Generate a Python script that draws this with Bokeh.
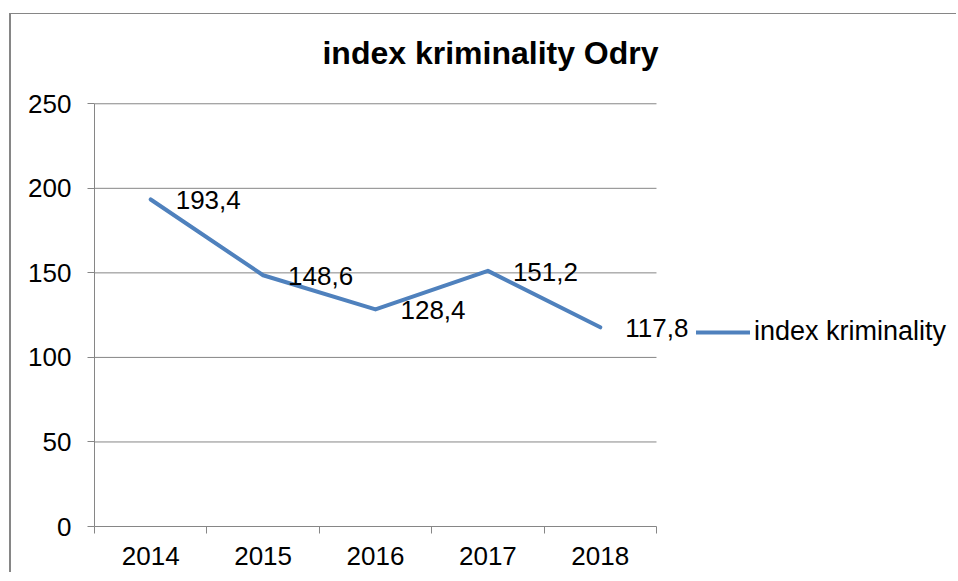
from bokeh.plotting import figure
from bokeh.models import (ColumnDataSource, FixedTicker, Range1d, Label, Legend, LegendItem)
from bokeh.core.properties import value
from bokeh.embed import file_html
from bokeh.resources import INLINE

years = ["2014", "2015", "2016", "2017", "2018"]
crime_index = [193.4, 148.6, 128.4, 151.2, 117.8]
y_ticks = [0, 50, 100, 150, 200, 250]
title_text = "index kriminality Odry"
series_name = "index kriminality"

FONT = "Liberation Sans"
GRAY = "#868686"
BLUE = "#4F81BD"

n = len(years)
xs = list(range(n))
x_lo, x_hi = -0.5, n - 0.5
src = ColumnDataSource(dict(
    x=xs,
    y=crime_index,
    lab=[str(v).replace(".", ",") for v in crime_index],
))
grid_src = ColumnDataSource(dict(
    x0=[x_lo] * (len(y_ticks) - 1), x1=[x_hi] * (len(y_ticks) - 1), y=y_ticks[1:],
))

# frame spans the canvas to the right/top so that labels, title and legend are not clipped
p = figure(width=947, height=559, output_backend="svg", toolbar_location=None,
           x_range=Range1d(x_lo, 7.187), y_range=Range1d(0, 302.8),
           min_border_left=83, min_border_right=0, min_border_top=0, min_border_bottom=47)
p.styles = {"margin-left": "9px", "margin-top": "13px",
            "border-left": "2px solid " + GRAY, "border-top": "1px solid " + GRAY}
p.outline_line_color = None
p.background_fill_color = "white"
p.border_fill_color = "white"
p.xgrid.grid_line_color = None
p.ygrid.grid_line_color = None

# x axis: labels at centres, tick marks at category boundaries (minor ticks)
p.xaxis.ticker = FixedTicker(ticks=xs, minor_ticks=[i - 0.5 for i in range(n + 1)])
p.xaxis.major_label_overrides = {i: y for i, y in enumerate(years)}
p.xaxis.bounds = (x_lo, x_hi)
p.xaxis.major_tick_out = 0
p.xaxis.major_tick_in = 0
p.xaxis.minor_tick_out = 7
p.xaxis.minor_tick_in = 0
p.xaxis.minor_tick_line_color = GRAY
p.xaxis.axis_line_color = GRAY
p.xaxis.major_label_standoff = 13

p.yaxis.ticker = FixedTicker(ticks=y_ticks)
p.yaxis.bounds = (y_ticks[0], y_ticks[-1])
p.yaxis.major_tick_out = 7
p.yaxis.major_tick_in = 0
p.yaxis.minor_tick_line_color = None
p.yaxis.major_tick_line_color = GRAY
p.yaxis.axis_line_color = GRAY
p.yaxis.major_label_standoff = 16

for ax in (p.xaxis, p.yaxis):
    ax.major_label_text_font = FONT
    ax.major_label_text_font_size = "26px"
    ax.major_label_text_color = "black"
    ax.axis_line_width = 1

p.segment("x0", "y", "x1", "y", source=grid_src, line_color=GRAY, line_width=1)

r = p.line("x", "y", source=src, line_color=BLUE, line_width=4,
           line_join="round", line_cap="round")

p.text("x", "y", text="lab", source=src, x_offset=25, y_offset=1,
       text_align="left", text_baseline="middle",
       text_font=value(FONT), text_font_size="26px", text_color="black")

title = Label(x=396, y=474, x_units="screen", y_units="screen", text=title_text,
              text_font=FONT, text_font_size="32px", text_font_style="bold",
              text_align="center", text_baseline="alphabetic", text_color="black")
p.add_layout(title)

legend = Legend(items=[LegendItem(label=series_name, renderers=[r])],
                location=(602, 179), orientation="vertical",
                glyph_width=54, glyph_height=20, label_standoff=4,
                padding=0, spacing=0, margin=0,
                border_line_alpha=0, background_fill_alpha=0,
                label_text_font=FONT, label_text_font_size="27px",
                label_text_color="black")
p.add_layout(legend)

open("out.html", "w").write(file_html(p, INLINE))
